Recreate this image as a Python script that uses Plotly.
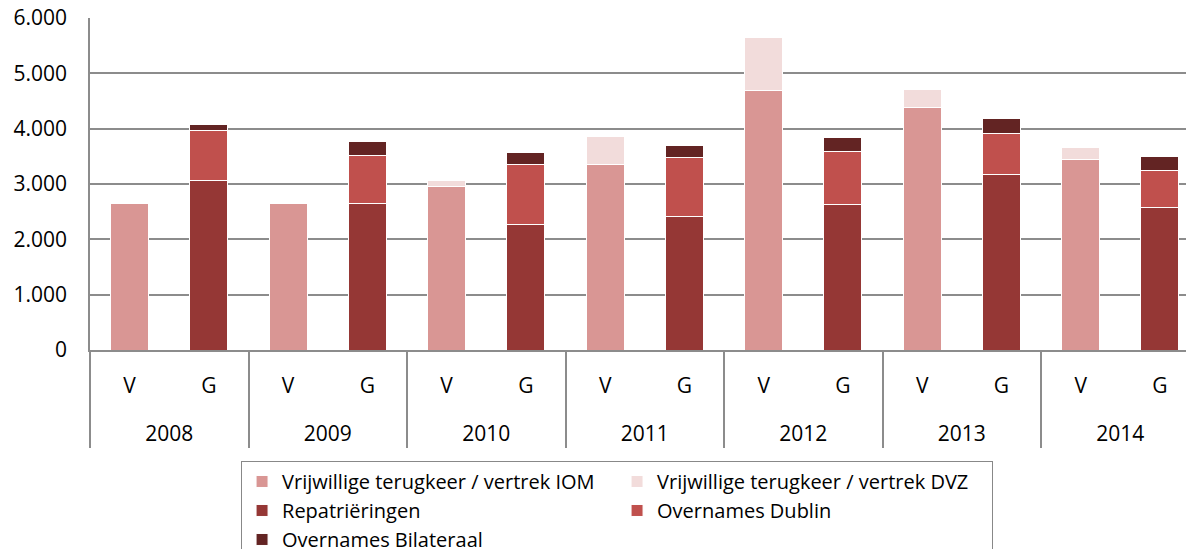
import plotly.graph_objects as go

years = ["2008", "2009", "2010", "2011", "2012", "2013", "2014"]
kinds = ["V", "G"]

iom = [2650, 2640, 2950, 3350, 4690, 4380, 3450]      # V
dvz = [0, 0, 120, 505, 960, 325, 205]                 # V
repatr = [3055, 2640, 2265, 2410, 2625, 3170, 2570]   # G
dublin = [905, 870, 1095, 1070, 970, 740, 680]        # G
bilat = [120, 265, 205, 210, 240, 270, 255]           # G

names = ["Vrijwillige terugkeer / vertrek IOM", "Vrijwillige terugkeer / vertrek DVZ",
         "Repatriëringen", "Overnames Dublin", "Overnames Bilateraal"]
colors = ["#D99694", "#F2DCDB", "#953735", "#C0504D", "#632423"]

# inner labels are flanked by transparent tall dots: they add room before the year row
pad = "<span style='font-size:46px;color:rgba(0,0,0,0)'>.</span>"
x_outer = [y for y in years for k in kinds]
x_inner = [pad + k + pad for y in years for k in kinds]


def spread(vals, kind):
    out = []
    for i, y in enumerate(years):
        for k in kinds:
            out.append(vals[i] if (k == kind and vals[i]) else None)
    return out


series = [(iom, "V"), (dvz, "V"), (repatr, "G"), (dublin, "G"), (bilat, "G")]

fig = go.Figure()
for (vals, kind), name, col in zip(series, names, colors):
    fig.add_trace(go.Bar(
        x=[x_outer, x_inner], y=spread(vals, kind), name=name,
        marker=dict(color=col, line=dict(color="white", width=1)),
    ))

font_family = "'Open Sans', Lato, sans-serif"
# the page body adds an 8px offset, so the figure is 8px smaller on each side
fig.update_layout(
    width=1186, height=541,
    margin=dict(l=82, r=0, t=10, b=199, autoexpand=False),
    barmode="stack", bargap=0.52,
    plot_bgcolor="white", paper_bgcolor="white",
    separators=",.",
    font=dict(family=font_family, size=20, color="#000"),
    legend=dict(
        orientation="h", xref="container", yref="container",
        x=0.1965, xanchor="left", y=0.1627, yanchor="top",
        entrywidth=330, bordercolor="#888", borderwidth=1,
        font=dict(size=20), traceorder="normal", itemwidth=30,
    ),
    showlegend=True,
)
fig.update_yaxes(
    range=[0, 6000], tickvals=[0, 1000, 2000, 3000, 4000, 5000, 6000],
    tickformat=",d", showgrid=True, gridcolor="#8c8c8c", gridwidth=1.5,
    showline=True, linecolor="#8c8c8c", linewidth=1.5, zeroline=False,
    ticks="", ticklabelstandoff=17, tickfont=dict(size=21), automargin=False,
    ticklabeloverflow="allow",
)
fig.update_xaxes(
    type="multicategory", range=[-0.5, 13.43], automargin=False,
    showline=True, linecolor="#8c8c8c", linewidth=1.5,
    showdividers=True, dividercolor="#8c8c8c", dividerwidth=1.5,
    tickfont=dict(size=21), ticks="", ticklabelstandoff=16,
)

fig.write_html("out.html")
